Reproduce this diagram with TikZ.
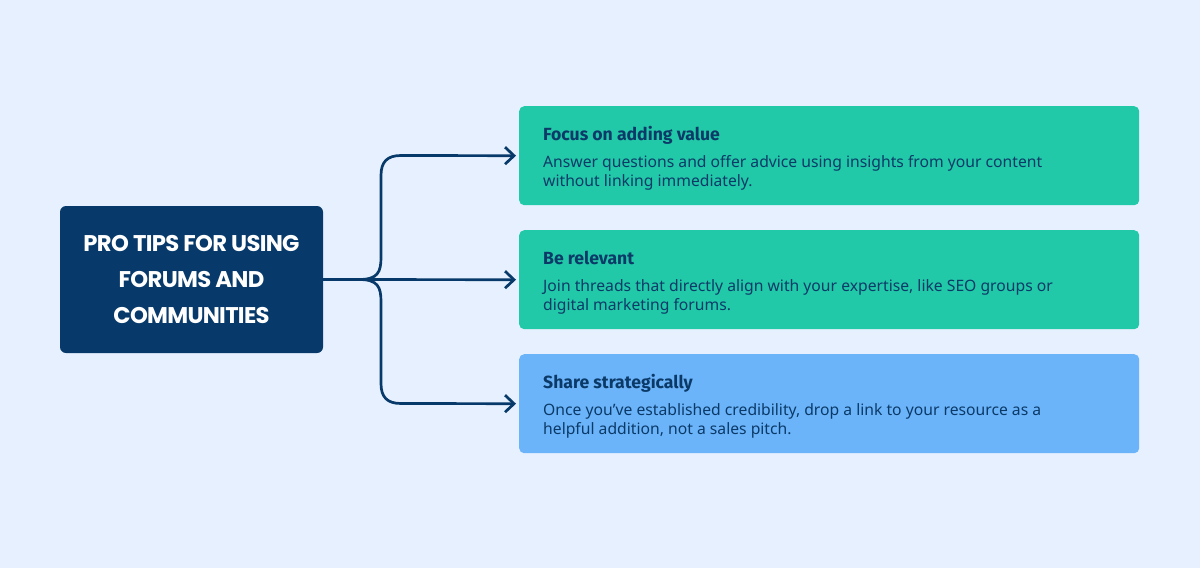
\documentclass[tikz,border=0pt]{standalone}
\usepackage{fontspec}
\setmainfont{Noto Sans}
\newfontfamily\titlefont{Fira Sans}
\newfontfamily\popfont[LetterSpace=-3]{Poppins}
\usetikzlibrary{arrows.meta}
\definecolor{bgc}{HTML}{E6F0FE}
\definecolor{navy}{HTML}{073A6A}
\definecolor{txtc}{HTML}{0B3A68}
\definecolor{greenc}{HTML}{22C9A8}
\definecolor{bluec}{HTML}{6CB4FA}
\tikzset{
  mainbox/.style={fill=navy, rounded corners=6pt, minimum width=263pt, minimum height=147pt, inner sep=0pt},
  tipbox/.style={rounded corners=5pt, minimum width=620pt, minimum height=99pt, inner sep=0pt, anchor=north west},
  tiptitle/.style={anchor=base west, inner sep=0pt, text=txtc, font=\titlefont\fontsize{17.6}{22}\selectfont\bfseries},
  tipbody/.style={anchor=north west, inner sep=0pt, text=txtc, font=\fontsize{15.7}{19.5}\selectfont, align=left},
  conn/.style={draw=navy, line width=2.7pt, -{Straight Barb[length=9pt,width=17pt,line width=2.7pt]}, shorten >=3pt}
}
\begin{document}
\begin{tikzpicture}[x=1pt,y=-1pt]
\fill[bgc] (0,0) rectangle (1200,568);
\useasboundingbox (0,0) rectangle (1200,568);
\node[mainbox] (m) at (191.5,279.5) {};
\node[text=white, align=center, font=\popfont\fontsize{22.7}{36}\selectfont\bfseries] (mt) at (m.center) {PRO TIPS FOR USING\\FORUMS AND\\COMMUNITIES};

\node[tipbox, fill=greenc] (b1) at (519,106) {};
\node[tipbox, fill=greenc] (b2) at (519,230) {};
\node[tipbox, fill=bluec] (b3) at (519,354) {};

\node[tiptitle] (t1) at (543,140) {Focus on adding value};
\node[tipbody] (d1) at (543,155) {Answer questions and offer advice using insights from your content\\without linking immediately.};
\node[tiptitle] (t2) at (543,264) {Be relevant};
\node[tipbody] (d2) at (543,279) {Join threads that directly align with your expertise, like SEO groups or\\digital marketing forums.};
\node[tiptitle] (t3) at (543,388) {Share strategically};
\node[tipbody] (d3) at (543,403) {Once you’ve established credibility, drop a link to your resource as a\\helpful addition, not a sales pitch.};

\coordinate (j) at (359,279.5);
\draw[conn] (m.east) -- (b2.west);
\draw[conn] (j) .. controls (378,279.5) and (381,272) .. (381,257) -- (381,175.5) .. controls (381,162) and (387,155.5) .. (401,155.5) -- (b1.west);
\draw[conn] (j) .. controls (378,279.5) and (381,287) .. (381,302) -- (381,383.5) .. controls (381,397) and (387,403.5) .. (401,403.5) -- (b3.west);
\end{tikzpicture}
\end{document}
